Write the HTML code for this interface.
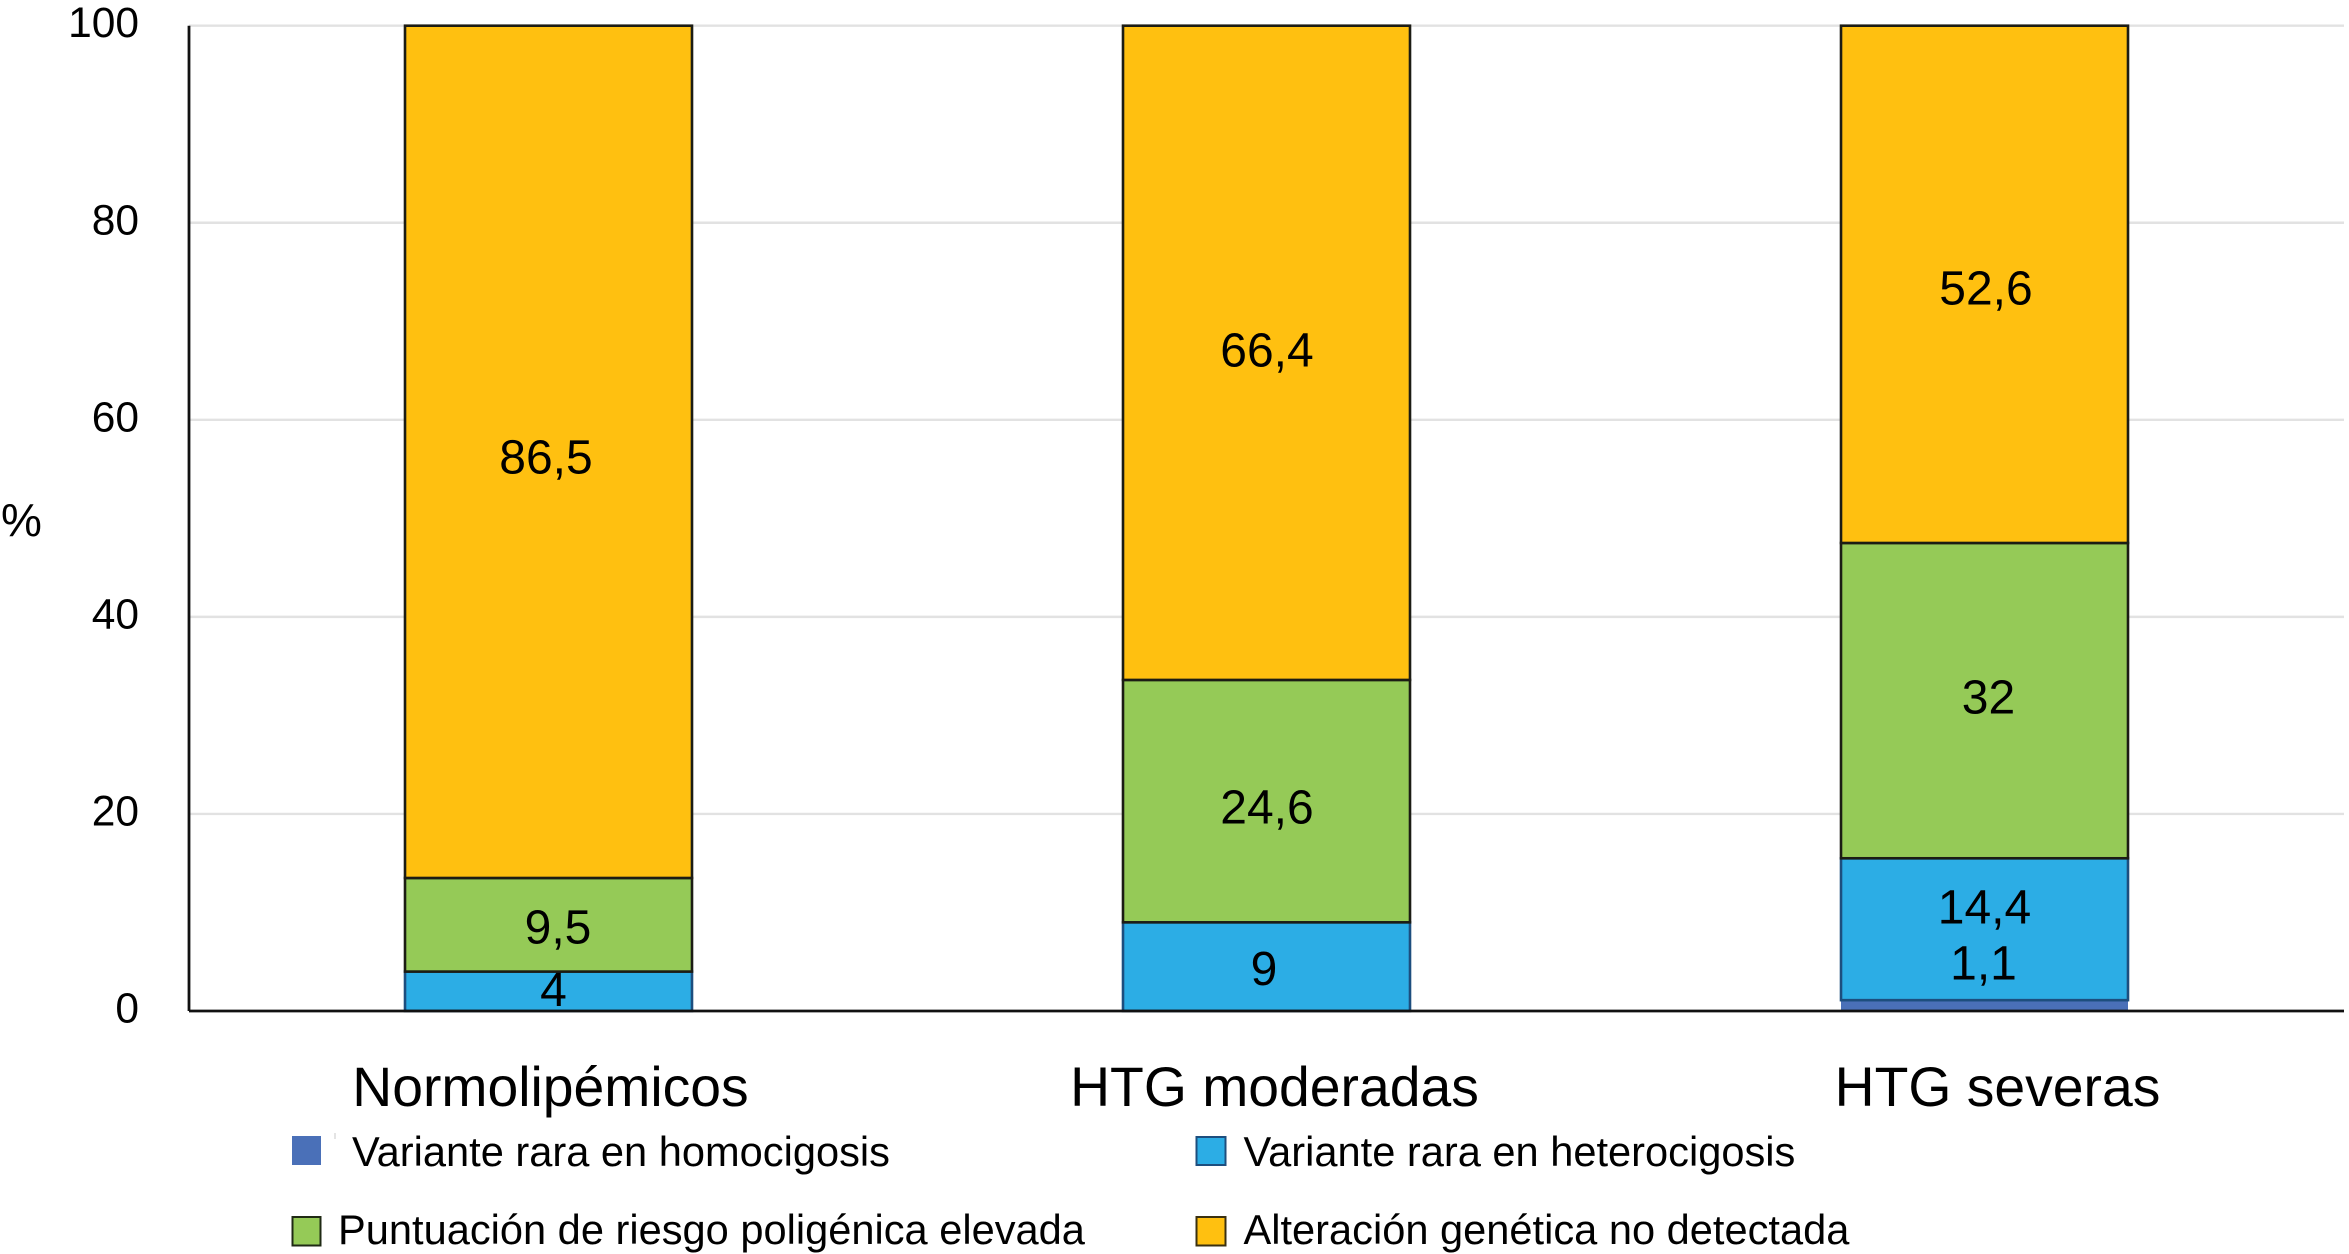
<!DOCTYPE html>
<html lang="es">
<head>
<meta charset="utf-8">
<title>Alteraciones genéticas por grupo</title>
<style>
  html, body { margin: 0; padding: 0; background: #ffffff; }
  #stage { display: block; width: 2349px; height: 1254px; font-family: "Liberation Sans", sans-serif; }
  text { fill: #000000; font-family: "Liberation Sans", sans-serif; }
</style>
</head>
<body>
<svg id="stage" xmlns="http://www.w3.org/2000/svg" width="2349" height="1254" viewBox="0 0 2349 1254">
  <rect x="0" y="0" width="2349" height="1254" fill="#ffffff"></rect>
  <g id="grid"></g>
  <g id="bars"></g>
  <g id="axes"></g>
  <g id="labels"></g>
  <g id="ticks"></g>
  <g id="cats"></g>
  <text x="1" y="536" font-size="46">%</text>

  <g>
    <g>
      <rect x="292" y="1136" width="29" height="29" fill="#4a70b8"></rect>
      <rect x="334.5" y="1133" width="1" height="6" fill="#c8c8c8"></rect>
      <text x="352" y="1166" font-size="41.6">Variante rara en homocigosis</text>
    </g>
    <g>
      <rect x="1196.5" y="1137" width="29" height="28" fill="#2cade5" stroke="#1d4e7e" stroke-width="2"></rect>
      <text x="1243.5" y="1166" font-size="41.6">Variante rara en heterocigosis</text>
    </g>
    <g>
      <rect x="292.5" y="1217" width="28" height="28.5" fill="#95ca57" stroke="#1f2a14" stroke-width="2"></rect>
      <text x="338" y="1244" font-size="41.6">Puntuación de riesgo poligénica elevada</text>
    </g>
    <g>
      <rect x="1196.5" y="1217" width="29" height="28.5" fill="#ffc010" stroke="#3a3010" stroke-width="2"></rect>
      <text x="1243.5" y="1244" font-size="41.6">Alteración genética no detectada</text>
    </g>
  </g>
</svg>

<script>
// Chart data
var categories = ['Normolipémicos', 'HTG moderadas', 'HTG severas'];
var homocigosis = [0, 0, 1.1];
var heterocigosis = [4, 9, 14.4];
var poligenica = [9.5, 24.6, 32];
var noDetectada = [86.5, 66.4, 52.6];
var yTickValues = [0, 20, 40, 60, 80, 100];
var seriesKeys = ['homocigosis', 'heterocigosis', 'poligenica', 'no-detectada'];

// Styling and layout (separate from the data)
var NS = 'http://www.w3.org/2000/svg';
var seriesValues = [homocigosis, heterocigosis, poligenica, noDetectada];
var fills = ['#4a70b8', '#2cade5', '#95ca57', '#ffc010'];
var strokes = ['none', '#1d4e7e', '#1c1c14', '#1c1c14'];
var plot = { left: 189, right: 2344, top: 25.7, bottom: 1011, yMax: 100 };
var bandStart = 548.5, bandStep = 718, barWidth = 287;

function yScale(v) {
  return plot.bottom - (Math.min(v, plot.yMax) / plot.yMax) * (plot.bottom - plot.top);
}
function xCenter(i) {
  return bandStart + i * bandStep;
}
function formatValue(v) {
  return String(v).replace('.', ',');
}
function make(tag, parent) {
  var el = document.createElementNS(NS, tag);
  parent.appendChild(el);
  return el;
}

// Small optical shifts of the printed labels, as seen in the source figure
function labelShift(c, s) {
  if (c === 0 && s === 3) return [-2.5, 5];
  if (c === 0 && s === 2) return [9.5, 2];
  if (c === 0 && s === 1) return [5, -2];
  if (c === 1 && s === 3) return [0.5, -3];
  if (c === 1 && s === 2) return [0.5, 6];
  if (c === 1 && s === 1) return [-2.5, 2];
  if (c === 2 && s === 3) return [1.5, 4];
  if (c === 2 && s === 2) return [4, -3.5];
  if (c === 2 && s === 1) return [0, -22];
  if (c === 2 && s === 0) return [-1, -42.5];
  return [0, 0];
}
var categoryShift = [2, 8, 13];

// Gridlines
var gridGroup = document.getElementById('grid');
yTickValues.forEach(function (t) {
  if (t === 0) return;
  var line = make('line', gridGroup);
  
  
  line.setAttribute('x1', plot.left);
  line.setAttribute('x2', plot.right);
  line.setAttribute('y1', yScale(t));
  line.setAttribute('y2', yScale(t));
  line.setAttribute('stroke', '#e2e2e2');
  line.setAttribute('stroke-width', '2.4');
});

// Stacked bars
var barGroup = document.getElementById('bars');
categories.forEach(function (cat, c) {
  var running = 0;
  seriesValues.forEach(function (series, s) {
    var v = series[c];
    if (!v) return;
    var yTop = yScale(running + v);
    var yBase = yScale(running);
    running += v;
    var rect = make('rect', barGroup);
    
    
    rect.setAttribute('x', xCenter(c) - barWidth / 2);
    rect.setAttribute('y', yTop);
    rect.setAttribute('width', barWidth);
    rect.setAttribute('height', yBase - yTop);
    rect.setAttribute('fill', fills[s]);
    rect.setAttribute('stroke', strokes[s]);
    rect.setAttribute('stroke-width', '2.6');
  });
});

// Value labels
var labelGroup = document.getElementById('labels');
categories.forEach(function (cat, c) {
  var running = 0;
  seriesValues.forEach(function (series, s) {
    var v = series[c];
    if (!v) return;
    var mid = running + v / 2;
    running += v;
    var shift = labelShift(c, s);
    var text = make('text', labelGroup);
    
    
    text.setAttribute('x', xCenter(c) + shift[0]);
    text.setAttribute('y', yScale(mid) + 16.5 + shift[1]);
    text.setAttribute('font-size', '48');
    text.setAttribute('text-anchor', 'middle');
    text.textContent = formatValue(v);
  });
});

// Axes
var axesGroup = document.getElementById('axes');
var yAxis = make('line', axesGroup);


yAxis.setAttribute('x1', plot.left);
yAxis.setAttribute('x2', plot.left);
yAxis.setAttribute('y1', plot.top);
yAxis.setAttribute('y2', plot.bottom);
yAxis.setAttribute('stroke', '#111111');
yAxis.setAttribute('stroke-width', '2.8');
var xAxis = make('line', axesGroup);


xAxis.setAttribute('x1', plot.left);
xAxis.setAttribute('x2', plot.right);
xAxis.setAttribute('y1', plot.bottom);
xAxis.setAttribute('y2', plot.bottom);
xAxis.setAttribute('stroke', '#111111');
xAxis.setAttribute('stroke-width', '2.8');

// Y tick labels
var tickGroup = document.getElementById('ticks');
yTickValues.forEach(function (t) {
  var text = make('text', tickGroup);
  
  
  text.setAttribute('x', 139);
  text.setAttribute('y', yScale(t) + 11.5);
  text.setAttribute('font-size', '42.5');
  text.setAttribute('text-anchor', 'end');
  text.textContent = String(t);
});

// Category labels
var catGroup = document.getElementById('cats');
categories.forEach(function (cat, c) {
  var text = make('text', catGroup);
  
  
  text.setAttribute('x', xCenter(c) + categoryShift[c]);
  text.setAttribute('y', 1106);
  text.setAttribute('font-size', '55.3');
  text.setAttribute('text-anchor', 'middle');
  text.textContent = cat;
});
</script>
</body>
</html>
